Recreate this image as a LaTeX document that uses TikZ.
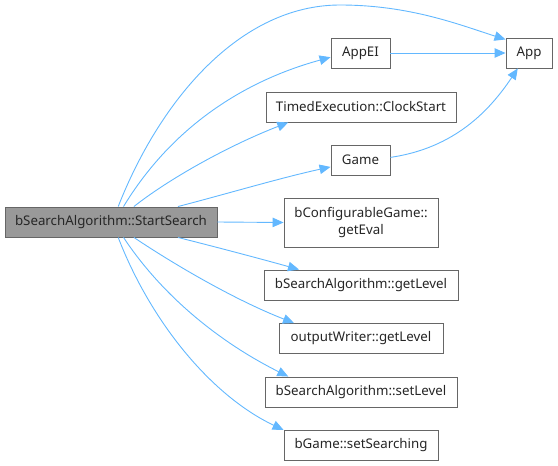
\documentclass[tikz,border=0pt]{standalone}
\usepackage{fontspec}
\setmainfont{Noto Sans}
\usetikzlibrary{arrows.meta}
\definecolor{edgeblue}{HTML}{63B8FF}
\definecolor{boxgray}{HTML}{666666}
\definecolor{rootfill}{HTML}{999999}
\begin{document}
\begin{tikzpicture}[x=1pt,y=-1pt,
  box/.style={draw=boxgray,line width=0.9pt,fill=white,rectangle,minimum height=30pt,inner sep=2pt,
    font=\fontsize{13.3}{17}\selectfont,align=center,text=black!85},
  rootbox/.style={box,fill=rootfill},
  edge/.style={draw=edgeblue,line width=0.9pt,-{Triangle[length=11pt,width=9.5pt]}}]
\useasboundingbox (0,0) rectangle (558,466);
\node[rootbox,minimum width=212pt] (main) at (111,222) {bSearchAlgorithm::StartSearch};
\node[box,minimum width=46pt] (app) at (529,53) {App};
\node[box,minimum width=59pt] (appei) at (360.5,53) {AppEI};
\node[box,minimum width=190pt] (te) at (361,107) {TimedExecution::ClockStart};
\node[box,minimum width=59pt] (game) at (360.5,160) {Game};
\node[box,minimum width=154pt,minimum height=49pt] (geteval) at (361,222.5) {bConfigurableGame::\\getEval};
\node[box,minimum width=194pt] (bsagl) at (361,285) {bSearchAlgorithm::getLevel};
\node[box,minimum width=164pt] (owgl) at (361,338.5) {outputWriter::getLevel};
\node[box,minimum width=192pt] (bsasl) at (361,392) {bSearchAlgorithm::setLevel};
\node[box,minimum width=154pt] (setsearch) at (361,445) {bGame::setSearching};

\draw[edge] (main.65) .. controls (160,100) and (240,5) .. (340,5) .. controls (410,5) and (460,25) .. (app.150);
\draw[edge] (main.51) .. controls (170,130) and (240,82) .. (appei.188);
\draw[edge] (main.34) .. controls (170,178) and (230,145) .. (te.192);
\draw[edge] (main.13.6) .. controls (230,193) and (280,178) .. (game.193);
\draw[edge] (main.east) -- (geteval.west);
\draw[edge] (main.-13.6) .. controls (220,248) and (265,260) .. (bsagl.166.8);
\draw[edge] (main.-34.3) .. controls (175,265) and (235,300) .. (owgl.167.6);
\draw[edge] (main.-51.3) .. controls (165,300) and (225,345) .. (bsasl.168.4);
\draw[edge] (main.-65) .. controls (150,320) and (210,395) .. (setsearch.169.6);
\draw[edge] (appei.east) -- (app.west);
\draw[edge] (game.5.8) .. controls (455,148) and (490,110) .. (app.-126);
\end{tikzpicture}
\end{document}
